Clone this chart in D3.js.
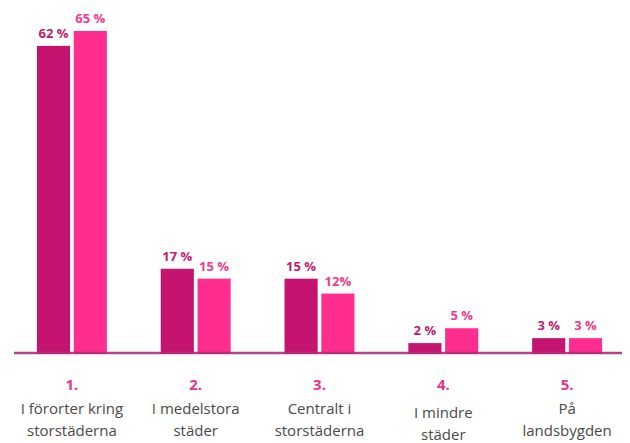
<!DOCTYPE html>
<html>
<head>
<meta charset="utf-8">
<script src="https://cdn.jsdelivr.net/npm/d3@7"></script>
<style>
  html, body { margin: 0; padding: 0; background: #fff; }
  svg { display: block; }
</style>
</head>
<body>
<svg id="chart" width="630" height="443"></svg>
<script>
const categories = ["1.", "2.", "3.", "4.", "5."];
const categoryLabels = [
  ["I förorter kring", "storstäderna"],
  ["I medelstora", "städer"],
  ["Centralt i", "storstäderna"],
  ["I mindre", "städer"],
  ["På", "landsbygden"]
];
const seriesA = [62, 17, 15, 2, 3];
const seriesB = [65, 15, 12, 5, 3];
const labelsA = ["62 %", "17 %", "15 %", "2 %", "3 %"];
const labelsB = ["65 %", "15 %", "12%", "5 %", "3 %"];
const seriesKeys = ["A", "B"];

const svg = d3.select("#chart");
const baseY = 353;
const y = d3.scaleLinear().domain([0, 65]).range([baseY, 31]);
const x0 = d3.scaleBand().domain(categories).range([10, 629]).paddingInner(0.435).paddingOuter(0.2175);
const x1 = d3.scaleBand().domain(seriesKeys).range([0, x0.bandwidth()]).paddingInner(0.1);
const colors = { A: "#c5146f", B: "#ff2e8e" };
const labelColors = { A: "#bf1b6e", B: "#f23a8d" };

const rows = categories.map((c, i) => ({
  cat: c,
  lines: categoryLabels[i],
  vals: [
    { key: "A", v: seriesA[i], label: labelsA[i] },
    { key: "B", v: seriesB[i], label: labelsB[i] }
  ]
}));

const groups = svg.selectAll("g.grp").data(rows).join("g")
  .attr("class", "grp")
  .attr("transform", d => `translate(${x0(d.cat)},0)`);

groups.selectAll("rect").data(d => d.vals).join("rect")
  .attr("x", d => x1(d.key))
  .attr("y", d => y(d.v))
  .attr("width", x1.bandwidth())
  .attr("height", d => baseY + 1 - y(d.v))
  .attr("fill", d => colors[d.key]);

groups.selectAll("text.val").data(d => d.vals).join("text")
  .attr("class", "val")
  .attr("x", d => x1(d.key) + x1.bandwidth() / 2)
  .attr("y", d => y(d.v) - 8)
  .attr("text-anchor", "middle")
  .attr("font-family", "'Open Sans', sans-serif")
  .attr("font-weight", "bold")
  .attr("font-size", 13)
  .attr("fill", d => labelColors[d.key])
  .text(d => d.label);

// axis baseline
svg.append("line")
  .attr("x1", 14).attr("x2", 622)
  .attr("y1", baseY).attr("y2", baseY)
  .attr("stroke", "#ad2f7c")
  .attr("stroke-opacity", 0.9)
  .attr("stroke-width", 2.5);

// category labels via axis
const axis = d3.axisBottom(x0).tickSize(0).tickFormat("");
const axG = svg.append("g").attr("transform", `translate(0,${baseY})`).call(axis);
axG.select(".domain").remove();

axG.selectAll(".tick").each(function(d, i) {
  const t = d3.select(this);
  t.append("text")
    .attr("y", 37)
    .attr("text-anchor", "middle")
    .attr("font-family", "'Open Sans', sans-serif")
    .attr("font-weight", "bold")
    .attr("font-size", 15)
    .attr("fill", "#e8338a")
    .text(d);
  const lines = categoryLabels[i];
  const off = i === 3 ? 4 : 0;
  lines.forEach((ln, j) => {
    t.append("text")
      .attr("y", 61 + j * 22 + off)
      .attr("text-anchor", "middle")
      .attr("font-family", "'Open Sans', sans-serif")
      .attr("font-size", 15)
      .attr("fill", "#4a4a4a")
      .text(ln);
  });
});
</script>
</body>
</html>
